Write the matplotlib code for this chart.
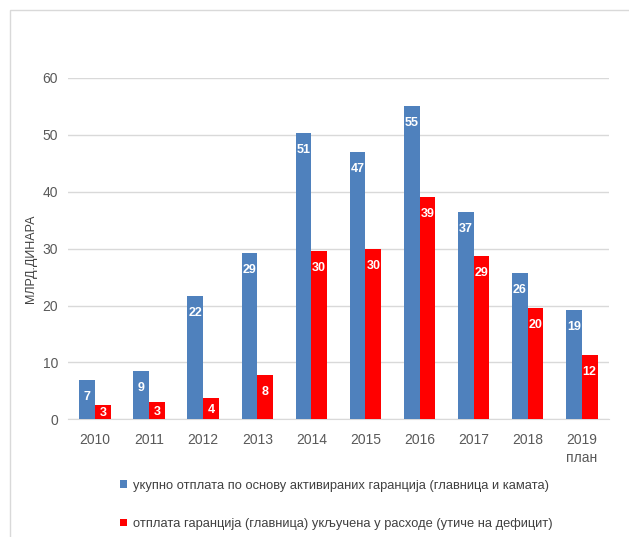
import numpy as np
import matplotlib.pyplot as plt
from matplotlib.patches import Rectangle

plt.rcParams['font.family'] = ['Liberation Sans', 'DejaVu Sans']

years = ['2010', '2011', '2012', '2013', '2014', '2015', '2016', '2017', '2018', '2019\nплан']
total = [7.0, 8.5, 21.6, 29.2, 50.4, 47.0, 55.1, 36.5, 25.8, 19.3]
deficit = [2.5, 3.1, 3.7, 7.8, 29.5, 29.9, 39.0, 28.7, 19.6, 11.4]
labels_total = ['7', '9', '22', '29', '51', '47', '55', '37', '26', '19']
labels_deficit = ['3', '3', '4', '8', '30', '30', '39', '29', '20', '12']
series_names = ['укупно отплата по основу активираних гаранција (главница и камата)',
                'отплата гаранција (главница) укључена у расходе (утиче на дефицит)']

blue = '#4f81bd'
red = '#ff0000'

fig = plt.figure(figsize=(6.29, 5.37), dpi=100)
ax = fig.add_axes([0.108, 0.219, 0.86, 0.636])

x = np.arange(len(years))
w = 0.29
b1 = ax.bar(x - w/2, total, w, color=blue, label=series_names[0], zorder=3)
b2 = ax.bar(x + w/2, deficit, w, color=red, label=series_names[1], zorder=3)

ax.set_xlim(-0.5, len(years) - 0.5)
ax.set_ylim(0, 60)
px_per_unit = 341.7 / 60

# value labels inside the bar ends
for bars, labs in ((b1, labels_total), (b2, labels_deficit)):
    for r, t in zip(bars, labs):
        hpx = r.get_height() * px_per_unit
        off = min(17, hpx / 2 + 1)
        ax.annotate(t, (r.get_x() + r.get_width()/2, r.get_height()),
                    xytext=(0, -off), textcoords='offset pixels',
                    ha='center', va='center', color='white',
                    fontsize=9, fontweight='bold', zorder=4)

ax.set_yticks(range(0, 61, 10))
ax.set_xticks(x)
ax.set_xticklabels(years, linespacing=1.3)
ax.tick_params(axis='both', length=0, colors='#595959', labelsize=10)
ax.tick_params(axis='y', pad=7)
ax.tick_params(axis='x', pad=10)
ax.grid(axis='y', color='#d9d9d9', linewidth=1, zorder=0)
for s in ['top', 'right', 'left']:
    ax.spines[s].set_visible(False)
ax.spines['bottom'].set_color('#d9d9d9')
ax.set_ylabel('МЛРД.ДИНАРА', fontsize=9, color='#404040')
ax.yaxis.set_label_coords(-0.058, 0.47)

leg = fig.legend(handles=[b1, b2], loc='upper left', bbox_to_anchor=(0.19, 0.107),
                 frameon=False, fontsize=9.3, handlelength=0.55, handleheight=0.55,
                 handletextpad=0.5, labelspacing=2.05, labelcolor='#404040',
                 borderaxespad=0, borderpad=0)

fig.patches.append(Rectangle((10/629, -0.1), 1.2, 1 - 10/537 + 0.1, transform=fig.transFigure,
                             fill=False, edgecolor='#d9d9d9', linewidth=1))

fig.savefig('out.png', dpi=100)
